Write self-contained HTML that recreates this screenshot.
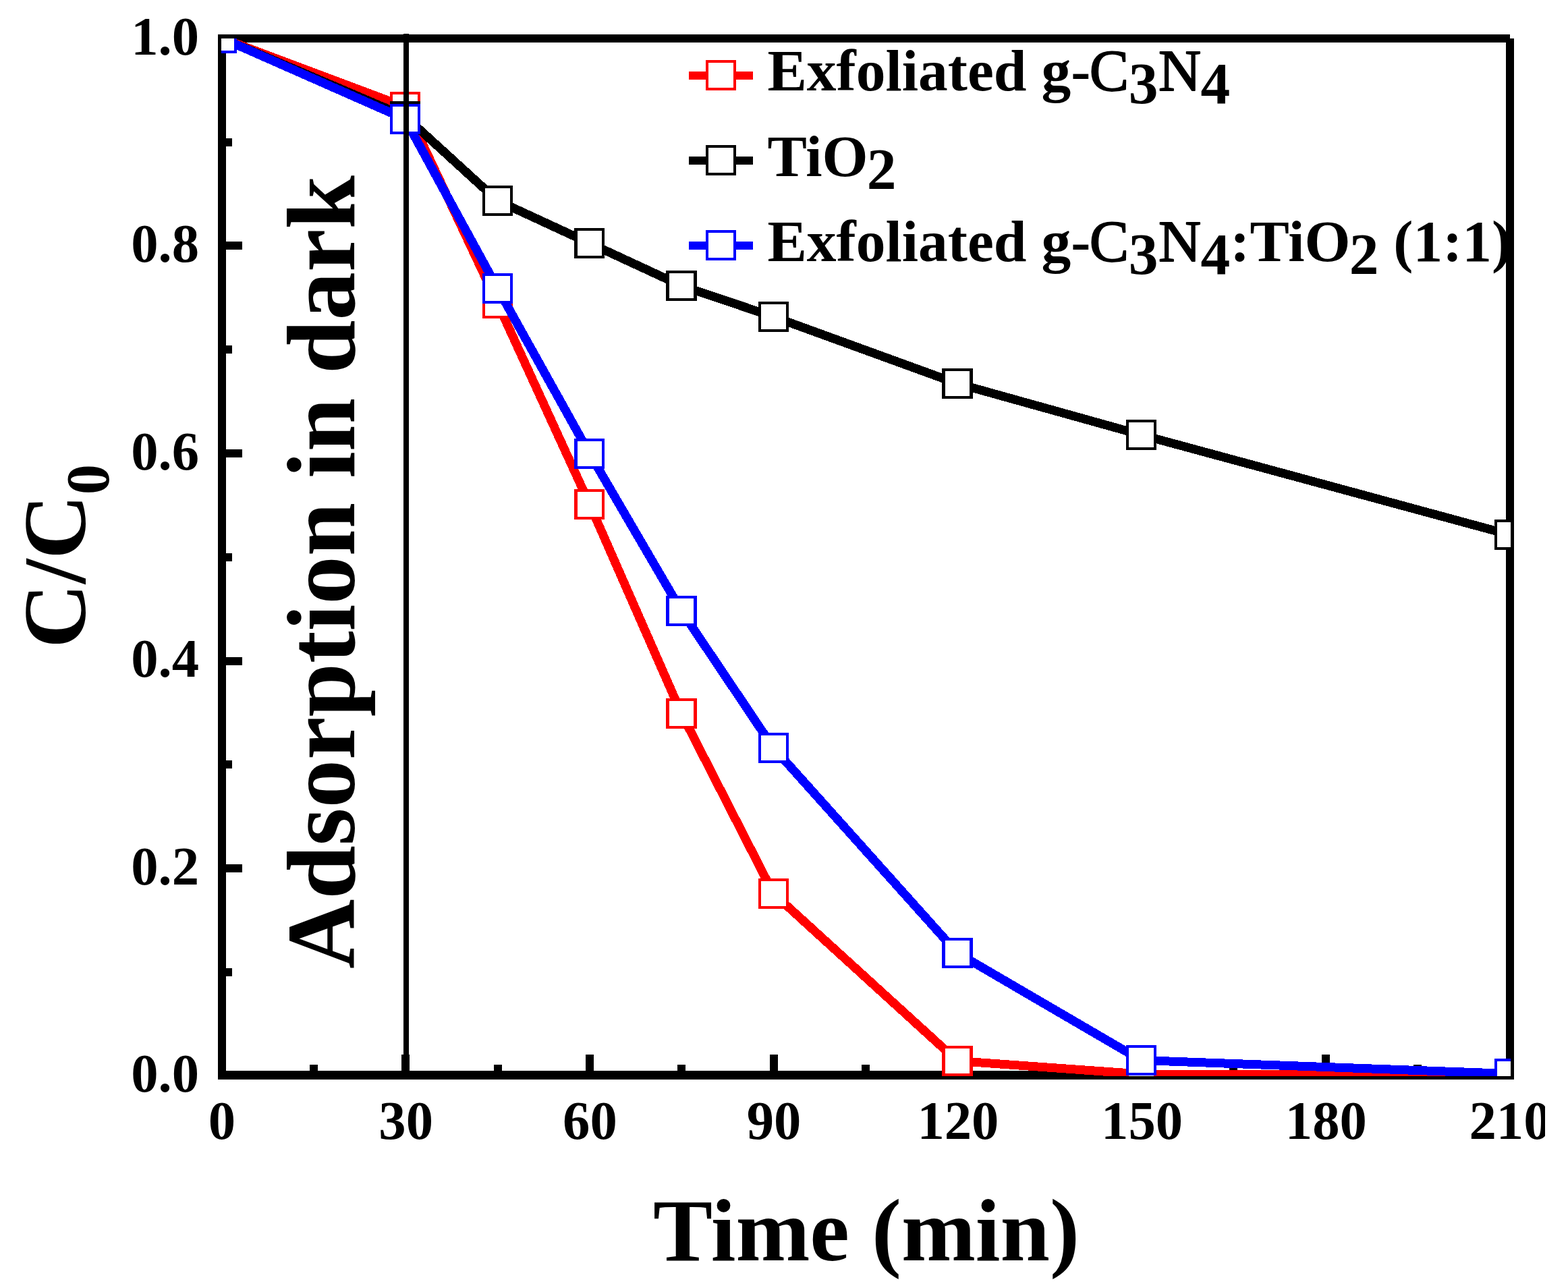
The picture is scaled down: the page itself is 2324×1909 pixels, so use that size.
<!DOCTYPE html>
<html lang="en"><head><meta charset="utf-8"><title>C/C0 vs Time</title>
<style>
html,body{margin:0;padding:0;background:#fff;}
body{width:2324px;height:1909px;overflow:hidden;}
svg{display:block;}
text{font-family:"Liberation Serif",serif;font-weight:bold;fill:#000;}
.tk{font-size:80.7px;}
.lg{font-size:87.5px;}
.ti{font-size:132px;}
.an{font-size:143px;}
.rg{font-weight:normal;stroke:#000;stroke-width:1.8px;stroke-linejoin:round;}
</style></head><body>
<svg width="2324" height="1909" viewBox="0 0 2324 1909">
<defs><clipPath id="plot"><rect x="328" y="57" width="1911" height="1538"/></clipPath><clipPath id="page"><rect x="0" y="0" width="2290" height="1909"/></clipPath></defs>
<rect x="0" y="0" width="2324" height="1909" fill="#fff"/>
<g id="axes" fill="#000" shape-rendering="crispEdges">
<rect x="323" y="51" width="12" height="1549"/>
<rect x="323" y="51" width="1915" height="12"/>
<rect x="323" y="1587" width="1921" height="13"/>
<rect x="2232" y="57" width="12" height="1543"/>
<rect x="323" y="1563" width="12" height="27"/>
<rect x="459" y="1578" width="12" height="12"/>
<rect x="595" y="1563" width="12" height="27"/>
<rect x="732" y="1578" width="12" height="12"/>
<rect x="868" y="1563" width="12" height="27"/>
<rect x="1004" y="1578" width="12" height="12"/>
<rect x="1141" y="1563" width="12" height="27"/>
<rect x="1277" y="1578" width="12" height="12"/>
<rect x="1413" y="1563" width="12" height="27"/>
<rect x="1550" y="1578" width="12" height="12"/>
<rect x="1686" y="1563" width="12" height="27"/>
<rect x="1822" y="1578" width="12" height="12"/>
<rect x="1959" y="1563" width="12" height="27"/>
<rect x="2095" y="1578" width="12" height="12"/>
<rect x="2232" y="1563" width="12" height="27"/>
<rect x="330" y="1588" width="29" height="12"/>
<rect x="330" y="1435" width="14" height="12"/>
<rect x="330" y="1281" width="29" height="12"/>
<rect x="330" y="1127" width="14" height="12"/>
<rect x="330" y="974" width="29" height="12"/>
<rect x="330" y="820" width="14" height="12"/>
<rect x="330" y="666" width="29" height="12"/>
<rect x="330" y="512" width="14" height="12"/>
<rect x="330" y="358" width="29" height="12"/>
<rect x="330" y="205" width="14" height="12"/>
<rect x="330" y="51" width="29" height="12"/>
</g>
<g id="data" clip-path="url(#plot)">
<g stroke="#ff0000" shape-rendering="crispEdges">
<polyline fill="none" stroke-width="13" stroke-linejoin="round" points="328.5,56.5 600.5,158.5 737.5,449.5 874,747.5 1010,1057.5 1146.5,1324.5 1419,1572.5 1691.5,1592 2237.5,1593"/>
<rect x="308.1" y="36.1" width="40.8" height="40.8" fill="#fff" stroke-width="4.2"/>
<rect x="580.1" y="138.1" width="40.8" height="40.8" fill="#fff" stroke-width="4.2"/>
<rect x="717.1" y="429.1" width="40.8" height="40.8" fill="#fff" stroke-width="4.2"/>
<rect x="853.6" y="727.1" width="40.8" height="40.8" fill="#fff" stroke-width="4.2"/>
<rect x="989.6" y="1037.1" width="40.8" height="40.8" fill="#fff" stroke-width="4.2"/>
<rect x="1126.1" y="1304.1" width="40.8" height="40.8" fill="#fff" stroke-width="4.2"/>
<rect x="1398.6" y="1552.1" width="40.8" height="40.8" fill="#fff" stroke-width="4.2"/>
<rect x="1671.1" y="1571.6" width="40.8" height="40.8" fill="#fff" stroke-width="4.2"/>
<rect x="2217.1" y="1572.6" width="40.8" height="40.8" fill="#fff" stroke-width="4.2"/>
</g>
<g stroke="#000000" shape-rendering="crispEdges">
<polyline fill="none" stroke-width="13" stroke-linejoin="round" points="328.5,56.5 600.5,172.5 737.5,297.5 874,360.5 1010,423.5 1146.5,469.5 1419,568.5 1691.5,644.5 2237.5,792.5"/>
<rect x="308.1" y="36.1" width="40.8" height="40.8" fill="#fff" stroke-width="4.2"/>
<rect x="580.1" y="152.1" width="40.8" height="40.8" fill="#fff" stroke-width="4.2"/>
<rect x="717.1" y="277.1" width="40.8" height="40.8" fill="#fff" stroke-width="4.2"/>
<rect x="853.6" y="340.1" width="40.8" height="40.8" fill="#fff" stroke-width="4.2"/>
<rect x="989.6" y="403.1" width="40.8" height="40.8" fill="#fff" stroke-width="4.2"/>
<rect x="1126.1" y="449.1" width="40.8" height="40.8" fill="#fff" stroke-width="4.2"/>
<rect x="1398.6" y="548.1" width="40.8" height="40.8" fill="#fff" stroke-width="4.2"/>
<rect x="1671.1" y="624.1" width="40.8" height="40.8" fill="#fff" stroke-width="4.2"/>
<rect x="2217.1" y="772.1" width="40.8" height="40.8" fill="#fff" stroke-width="4.2"/>
</g>
<g stroke="#0000ff" shape-rendering="crispEdges">
<polyline fill="none" stroke-width="13" stroke-linejoin="round" points="328.5,56.5 600.5,176.5 737.5,427.5 874,672.5 1010,905.5 1146.5,1108.5 1419,1412.5 1691.5,1571.5 2237.5,1591.5"/>
<rect x="308.1" y="36.1" width="40.8" height="40.8" fill="#fff" stroke-width="4.2"/>
<rect x="580.1" y="156.1" width="40.8" height="40.8" fill="#fff" stroke-width="4.2"/>
<rect x="717.1" y="407.1" width="40.8" height="40.8" fill="#fff" stroke-width="4.2"/>
<rect x="853.6" y="652.1" width="40.8" height="40.8" fill="#fff" stroke-width="4.2"/>
<rect x="989.6" y="885.1" width="40.8" height="40.8" fill="#fff" stroke-width="4.2"/>
<rect x="1126.1" y="1088.1" width="40.8" height="40.8" fill="#fff" stroke-width="4.2"/>
<rect x="1398.6" y="1392.1" width="40.8" height="40.8" fill="#fff" stroke-width="4.2"/>
<rect x="1671.1" y="1551.1" width="40.8" height="40.8" fill="#fff" stroke-width="4.2"/>
<rect x="2217.1" y="1571.1" width="40.8" height="40.8" fill="#fff" stroke-width="4.2"/>
</g>
</g>
<rect x="598" y="50" width="8" height="1545" fill="#000" shape-rendering="crispEdges"/>
<g class="tk" clip-path="url(#page)">
<text x="295" y="1618.0" text-anchor="end">0.0</text>
<text x="295" y="1310.5" text-anchor="end">0.2</text>
<text x="295" y="1003.0" text-anchor="end">0.4</text>
<text x="295" y="695.5" text-anchor="end">0.6</text>
<text x="295" y="388.0" text-anchor="end">0.8</text>
<text x="295" y="80.5" text-anchor="end">1.0</text>
<text x="329.0" y="1688" text-anchor="middle">0</text>
<text x="601.7" y="1688" text-anchor="middle">30</text>
<text x="874.4" y="1688" text-anchor="middle">60</text>
<text x="1147.1" y="1688" text-anchor="middle">90</text>
<text x="1419.9" y="1688" text-anchor="middle">120</text>
<text x="1692.6" y="1688" text-anchor="middle">150</text>
<text x="1965.3" y="1688" text-anchor="middle">180</text>
<text x="2238.0" y="1688" text-anchor="middle">210</text>
</g>
<text class="ti" x="1284" y="1867.5" text-anchor="middle">Time (min)</text>
<text class="ti" transform="translate(126,960.5) rotate(-90)">C/C<tspan dy="35" font-size="90.5px">0</tspan></text>
<text class="an" transform="translate(525,1436) rotate(-90)">Adsorption in dark</text>
<g id="legend" shape-rendering="crispEdges">
<rect x="1021" y="106" width="95" height="12" fill="#ff0000"/>
<rect x="1048.1" y="91.1" width="40.8" height="40.8" fill="#fff" stroke="#ff0000" stroke-width="4.2"/>
<rect x="1021" y="232" width="95" height="12" fill="#000000"/>
<rect x="1048.1" y="217.1" width="40.8" height="40.8" fill="#fff" stroke="#000000" stroke-width="4.2"/>
<rect x="1021" y="358" width="95" height="12" fill="#0000ff"/>
<rect x="1048.1" y="343.1" width="40.8" height="40.8" fill="#fff" stroke="#0000ff" stroke-width="4.2"/>
</g>
<g class="lg">
<text x="1137.5" y="134">Exfoliated g-<tspan class="rg" dx="-1.5">C</tspan><tspan dy="19" dx="-0.5">3</tspan><tspan class="rg" dy="-19" dx="0.5">N</tspan><tspan dy="19" dx="-0.5">4</tspan></text>
<text x="1137.5" y="261">TiO<tspan dy="19" dx="-2">2</tspan></text>
<text x="1137.5" y="386.5">Exfoliated g-<tspan class="rg" dx="-1.5">C</tspan><tspan dy="19" dx="-0.5">3</tspan><tspan class="rg" dy="-19" dx="0.5">N</tspan><tspan dy="19" dx="-0.5">4</tspan><tspan dy="-19">:TiO</tspan><tspan dy="19" dx="-2">2</tspan><tspan dy="-19"> (1:1)</tspan></text>
</g>
</svg>
</body></html>
